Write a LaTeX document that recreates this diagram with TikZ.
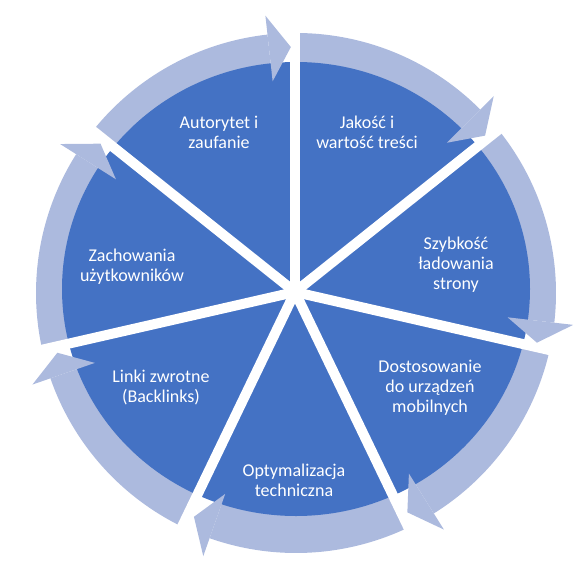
\documentclass[tikz,border=0pt]{standalone}
\usepackage{fontspec}
\setmainfont{Carlito}
\usetikzlibrary{calc}
\definecolor{pieblue}{RGB}{68,114,196}
\definecolor{ringblue}{RGB}{172,186,222}
\newcommand\tstrut{\rule{0pt}{13pt}}
\newcommand\bstrut{\rule[-4pt]{0pt}{4pt}}
\begin{document}
\begin{tikzpicture}[x=1pt,y=1pt,
  lbl/.style={text=white, align=center, font=\fontsize{18}{20}\selectfont, inner sep=0pt},
  gapline/.style={draw=white, line width=10pt},
  ringpart/.style={fill=ringblue},
  piepart/.style={fill=pieblue}]
\useasboundingbox (0,0) rectangle (588,-577);
\coordinate (S) at (295,-292);
\coordinate (C) at (296,-293);
\coordinate (P) at (296,-289);
% arrow shafts (under the pie)
\foreach \i in {0,...,6}{
  \pgfmathsetmacro\a{90-51.4286*\i}
  \pgfmathsetmacro\b{\a-51.4286}
  \pgfmathsetmacro\e{\b+6.3}
  \fill[ringpart] ($(C)+(\a:260)$) arc[start angle=\a, end angle=\e, radius=260]
    -- ($(C)+(\e:212)$) arc[start angle=\e, end angle=\a, radius=212] -- cycle;
}
% pie
\fill[piepart] (P) ellipse [x radius=234, y radius=227];
% white gaps
\foreach \i in {0,...,6}{
  \pgfmathsetmacro\a{90-51.4286*\i}
  \draw[gapline] (S) -- ($(S)+(\a:295)$);
}
% arrow heads
\foreach \i in {0,...,6}{
  \pgfmathsetmacro\a{90-51.4286*\i}
  \pgfmathsetmacro\b{\a-51.4286}
  \pgfmathsetmacro\e{\b+6.3}
  \pgfmathsetmacro\t{\b+1.2}
  \fill[ringpart] ($(C)+(\e:279)$) -- ($(C)+(\t:246)$) -- ($(C)+(\e:213)$) -- cycle;
}
% labels
\node[lbl] (aut) at (219,-134) {\tstrut Autorytet i\\zaufanie\bstrut};
\node[lbl] (jak) at (367,-134) {\tstrut Jakość i\\wartość treści\bstrut};
\node[lbl] (szy) at (456,-265) {\tstrut Szybkość\\ładowania\\strony\bstrut};
\node[lbl] (dos) at (430,-388) {\tstrut Dostosowanie\\do urządzeń\\mobilnych\bstrut};
\node[lbl] (opt) at (294,-482) {\tstrut Optymalizacja\\techniczna\bstrut};
\node[lbl] (lin) at (161,-387.5) {\tstrut Linki zwrotne\\(Backlinks)\bstrut};
\node[lbl] (zac) at (132,-267) {\tstrut Zachowania\\użytkowników\bstrut};
\end{tikzpicture}
\end{document}
